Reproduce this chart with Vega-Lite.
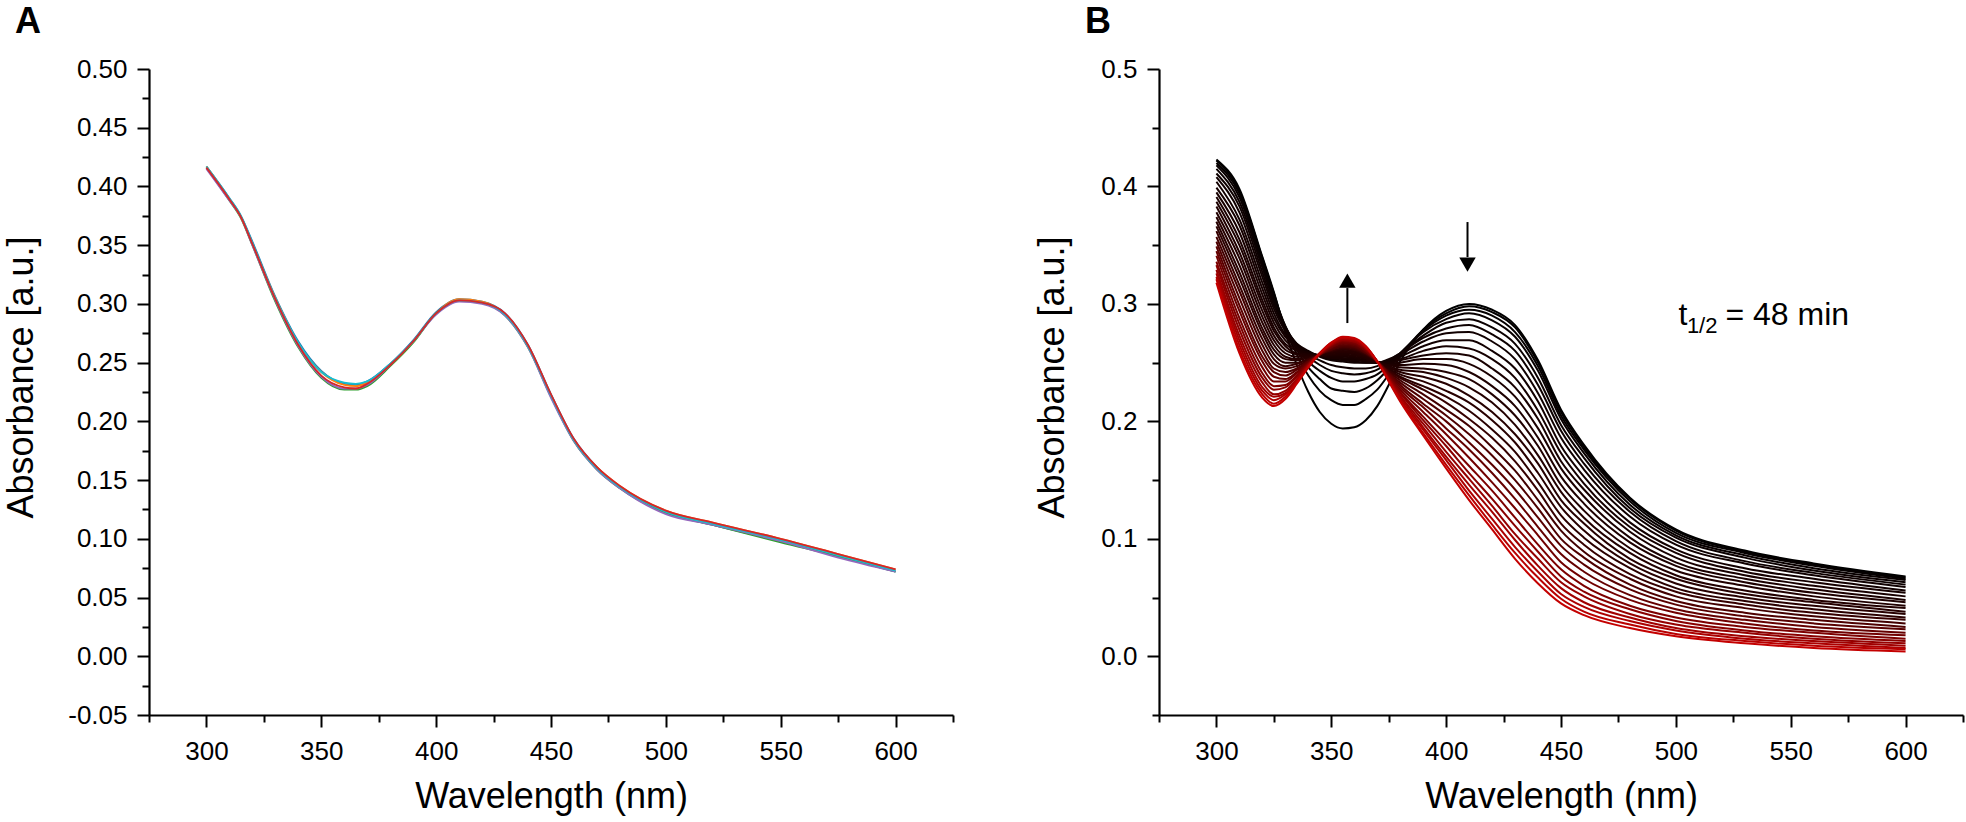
{"$schema":"https://vega.github.io/schema/vega-lite/v6.json","autosize":{"type":"none"},"padding":{"left":149,"top":69,"right":1817,"bottom":753},"background":"white","spacing":206,"bounds":"flush",
"config":{"view":{"stroke":null},"axis":{"grid":false,"domainColor":"black","tickColor":"black","labelColor":"black","titleColor":"black","labelFont":"Liberation Sans","titleFont":"Liberation Sans","labelFontSize":26,"titleFontSize":36,"titleFontWeight":"normal","tickWidth":2,"domainWidth":2.2,"labelFlush":false,"labelOverlap":false,"labelBound":false}},
"hconcat":[
{"width":804,"height":646,
"resolve":{"axis":{"x":"independent","y":"independent"}},
"layer":[
{"data":{"values":[
{"c":1,"w":300,"a":0.417},{"c":1,"w":310,"a":0.390},{"c":1,"w":315,"a":0.375},{"c":1,"w":320,"a":0.353},{"c":1,"w":330,"a":0.306},{"c":1,"w":340,"a":0.268},{"c":1,"w":350,"a":0.243},{"c":1,"w":360,"a":0.232},{"c":1,"w":365,"a":0.231},{"c":1,"w":370,"a":0.234},{"c":1,"w":380,"a":0.249},{"c":1,"w":390,"a":0.269},{"c":1,"w":400,"a":0.293},{"c":1,"w":410,"a":0.304},{"c":1,"w":420,"a":0.302},{"c":1,"w":430,"a":0.292},{"c":1,"w":440,"a":0.265},{"c":1,"w":450,"a":0.223},{"c":1,"w":460,"a":0.185},{"c":1,"w":470,"a":0.161},{"c":1,"w":480,"a":0.144},{"c":1,"w":500,"a":0.123},{"c":1,"w":520,"a":0.112},{"c":1,"w":550,"a":0.098},{"c":1,"w":575,"a":0.085},{"c":1,"w":600,"a":0.072},
{"c":2,"w":300,"a":0.416},{"c":2,"w":310,"a":0.388},{"c":2,"w":315,"a":0.373},{"c":2,"w":320,"a":0.350},{"c":2,"w":330,"a":0.302},{"c":2,"w":340,"a":0.263},{"c":2,"w":350,"a":0.237},{"c":2,"w":360,"a":0.227},{"c":2,"w":365,"a":0.227},{"c":2,"w":370,"a":0.230},{"c":2,"w":380,"a":0.247},{"c":2,"w":390,"a":0.267},{"c":2,"w":400,"a":0.292},{"c":2,"w":410,"a":0.303},{"c":2,"w":420,"a":0.301},{"c":2,"w":430,"a":0.290},{"c":2,"w":440,"a":0.263},{"c":2,"w":450,"a":0.221},{"c":2,"w":460,"a":0.183},{"c":2,"w":470,"a":0.159},{"c":2,"w":480,"a":0.143},{"c":2,"w":500,"a":0.122},{"c":2,"w":520,"a":0.112},{"c":2,"w":550,"a":0.097},{"c":2,"w":575,"a":0.085},{"c":2,"w":600,"a":0.072},
{"c":3,"w":300,"a":0.417},{"c":3,"w":310,"a":0.389},{"c":3,"w":315,"a":0.374},{"c":3,"w":320,"a":0.351},{"c":3,"w":330,"a":0.305},{"c":3,"w":340,"a":0.266},{"c":3,"w":350,"a":0.242},{"c":3,"w":360,"a":0.231},{"c":3,"w":365,"a":0.230},{"c":3,"w":370,"a":0.233},{"c":3,"w":380,"a":0.248},{"c":3,"w":390,"a":0.268},{"c":3,"w":400,"a":0.292},{"c":3,"w":410,"a":0.304},{"c":3,"w":420,"a":0.302},{"c":3,"w":430,"a":0.291},{"c":3,"w":440,"a":0.264},{"c":3,"w":450,"a":0.222},{"c":3,"w":460,"a":0.184},{"c":3,"w":470,"a":0.161},{"c":3,"w":480,"a":0.145},{"c":3,"w":500,"a":0.124},{"c":3,"w":520,"a":0.114},{"c":3,"w":550,"a":0.100},{"c":3,"w":575,"a":0.087},{"c":3,"w":600,"a":0.074},
{"c":4,"w":300,"a":0.415},{"c":4,"w":310,"a":0.388},{"c":4,"w":315,"a":0.374},{"c":4,"w":320,"a":0.350},{"c":4,"w":330,"a":0.303},{"c":4,"w":340,"a":0.264},{"c":4,"w":350,"a":0.238},{"c":4,"w":360,"a":0.228},{"c":4,"w":365,"a":0.228},{"c":4,"w":370,"a":0.231},{"c":4,"w":380,"a":0.248},{"c":4,"w":390,"a":0.268},{"c":4,"w":400,"a":0.291},{"c":4,"w":410,"a":0.302},{"c":4,"w":420,"a":0.300},{"c":4,"w":430,"a":0.290},{"c":4,"w":440,"a":0.263},{"c":4,"w":450,"a":0.220},{"c":4,"w":460,"a":0.183},{"c":4,"w":470,"a":0.159},{"c":4,"w":480,"a":0.143},{"c":4,"w":500,"a":0.121},{"c":4,"w":520,"a":0.112},{"c":4,"w":550,"a":0.098},{"c":4,"w":575,"a":0.084},{"c":4,"w":600,"a":0.072},
{"c":5,"w":300,"a":0.417},{"c":5,"w":310,"a":0.390},{"c":5,"w":315,"a":0.375},{"c":5,"w":320,"a":0.352},{"c":5,"w":330,"a":0.305},{"c":5,"w":340,"a":0.267},{"c":5,"w":350,"a":0.242},{"c":5,"w":360,"a":0.233},{"c":5,"w":365,"a":0.232},{"c":5,"w":370,"a":0.234},{"c":5,"w":380,"a":0.249},{"c":5,"w":390,"a":0.268},{"c":5,"w":400,"a":0.292},{"c":5,"w":410,"a":0.303},{"c":5,"w":420,"a":0.301},{"c":5,"w":430,"a":0.291},{"c":5,"w":440,"a":0.264},{"c":5,"w":450,"a":0.222},{"c":5,"w":460,"a":0.184},{"c":5,"w":470,"a":0.160},{"c":5,"w":480,"a":0.144},{"c":5,"w":500,"a":0.123},{"c":5,"w":520,"a":0.113},{"c":5,"w":550,"a":0.099},{"c":5,"w":575,"a":0.086},{"c":5,"w":600,"a":0.073},
{"c":6,"w":300,"a":0.416},{"c":6,"w":310,"a":0.389},{"c":6,"w":315,"a":0.374},{"c":6,"w":320,"a":0.351},{"c":6,"w":330,"a":0.304},{"c":6,"w":340,"a":0.265},{"c":6,"w":350,"a":0.239},{"c":6,"w":360,"a":0.229},{"c":6,"w":365,"a":0.228},{"c":6,"w":370,"a":0.232},{"c":6,"w":380,"a":0.248},{"c":6,"w":390,"a":0.268},{"c":6,"w":400,"a":0.292},{"c":6,"w":410,"a":0.303},{"c":6,"w":420,"a":0.301},{"c":6,"w":430,"a":0.292},{"c":6,"w":440,"a":0.265},{"c":6,"w":450,"a":0.223},{"c":6,"w":460,"a":0.185},{"c":6,"w":470,"a":0.161},{"c":6,"w":480,"a":0.145},{"c":6,"w":500,"a":0.124},{"c":6,"w":520,"a":0.114},{"c":6,"w":550,"a":0.100},{"c":6,"w":575,"a":0.087},{"c":6,"w":600,"a":0.074}
]},
"mark":{"type":"line","strokeWidth":1.8,"interpolate":"monotone"},
"encoding":{
"x":{"field":"w","type":"quantitative","scale":{"domain":[275,625],"nice":false,"zero":false},"axis":{"orient":"bottom","values":[300,350,400,450,500,550,600],"format":"d","tickSize":12,"labelPadding":11,"title":"Wavelength (nm)","titleX":402,"titleY":92,"titleBaseline":"alphabetic","titleAlign":"center"}},
"y":{"field":"a","type":"quantitative","scale":{"domain":[-0.05,0.5],"nice":false,"zero":false},"axis":{"orient":"left","values":[-0.05,0,0.05,0.1,0.15,0.2,0.25,0.3,0.35,0.4,0.45,0.5],"labelExpr":"replace(format(datum.value,'.2f'),'−','-')","tickSize":12,"labelPadding":10,"title":"Absorbance [a.u.]","titleX":-117,"titleY":308,"titleAngle":270,"titleBaseline":"alphabetic","titleAlign":"center"}},
"color":{"field":"c","type":"nominal","scale":{"domain":[1,2,3,4,5,6],"range":["#1f77b4","#2ca02c","#ff7f0e","#9467bd","#17becf","#d62728"]},"legend":null}}},
{"data":{"values":[{}]},
"mark":{"type":"point","opacity":0},
"encoding":{
"x":{"datum":300,"type":"quantitative","scale":{"domain":[275,625],"nice":false,"zero":false},"axis":{"orient":"bottom","values":[275,325,375,425,475,525,575,625],"tickSize":7,"labels":false,"domain":false,"title":null}},
"y":{"datum":0.3,"type":"quantitative","scale":{"domain":[-0.05,0.5],"nice":false,"zero":false},"axis":{"orient":"left","values":[-0.025,0.025,0.075,0.125,0.175,0.225,0.275,0.325,0.375,0.425,0.475],"tickSize":7,"labels":false,"domain":false,"title":null}}}},
{"data":{"values":[{}]},
"mark":{"type":"text","text":"A","font":"Liberation Sans","fontSize":36,"fontWeight":"bold","align":"left","baseline":"alphabetic","fill":"black"},
"encoding":{"x":{"datum":216.66,"type":"quantitative","scale":{"domain":[275,625],"nice":false,"zero":false},"axis":null},"y":{"datum":0.5307,"type":"quantitative","scale":{"domain":[-0.05,0.5],"nice":false,"zero":false},"axis":null}}}
]},
{"width":804,"height":646,
"resolve":{"axis":{"x":"independent","y":"independent"}},
"layer":[
{"data":{"values":[
{"s":0,"w":300,"a":0.423},{"s":0,"w":310,"a":0.398},{"s":0,"w":320,"a":0.340},{"s":0,"w":325,"a":0.310},{"s":0,"w":330,"a":0.276},{"s":0,"w":335,"a":0.248},{"s":0,"w":340,"a":0.225},{"s":0,"w":345,"a":0.208},{"s":0,"w":350,"a":0.198},{"s":0,"w":355,"a":0.194},{"s":0,"w":360,"a":0.195},{"s":0,"w":365,"a":0.201},{"s":0,"w":370,"a":0.213},{"s":0,"w":375,"a":0.231},{"s":0,"w":380,"a":0.251},{"s":0,"w":390,"a":0.278},{"s":0,"w":400,"a":0.294},{"s":0,"w":410,"a":0.300},{"s":0,"w":420,"a":0.295},{"s":0,"w":430,"a":0.282},{"s":0,"w":440,"a":0.252},{"s":0,"w":450,"a":0.210},{"s":0,"w":460,"a":0.180},{"s":0,"w":480,"a":0.135},{"s":0,"w":500,"a":0.108},{"s":0,"w":530,"a":0.090},{"s":0,"w":560,"a":0.079},{"s":0,"w":600,"a":0.068},
{"s":1,"w":300,"a":0.422},{"s":1,"w":310,"a":0.396},{"s":1,"w":320,"a":0.339},{"s":1,"w":325,"a":0.309},{"s":1,"w":330,"a":0.279},{"s":1,"w":335,"a":0.257},{"s":1,"w":340,"a":0.239},{"s":1,"w":345,"a":0.226},{"s":1,"w":350,"a":0.218},{"s":1,"w":355,"a":0.214},{"s":1,"w":360,"a":0.214},{"s":1,"w":365,"a":0.219},{"s":1,"w":370,"a":0.227},{"s":1,"w":375,"a":0.240},{"s":1,"w":380,"a":0.255},{"s":1,"w":390,"a":0.278},{"s":1,"w":400,"a":0.292},{"s":1,"w":410,"a":0.298},{"s":1,"w":420,"a":0.293},{"s":1,"w":430,"a":0.280},{"s":1,"w":440,"a":0.250},{"s":1,"w":450,"a":0.208},{"s":1,"w":460,"a":0.178},{"s":1,"w":480,"a":0.134},{"s":1,"w":500,"a":0.107},{"s":1,"w":530,"a":0.089},{"s":1,"w":560,"a":0.078},{"s":1,"w":600,"a":0.067},
{"s":2,"w":300,"a":0.420},{"s":2,"w":310,"a":0.394},{"s":2,"w":320,"a":0.337},{"s":2,"w":325,"a":0.307},{"s":2,"w":330,"a":0.281},{"s":2,"w":335,"a":0.261},{"s":2,"w":340,"a":0.246},{"s":2,"w":345,"a":0.236},{"s":2,"w":350,"a":0.228},{"s":2,"w":355,"a":0.226},{"s":2,"w":360,"a":0.225},{"s":2,"w":365,"a":0.228},{"s":2,"w":370,"a":0.235},{"s":2,"w":375,"a":0.245},{"s":2,"w":380,"a":0.257},{"s":2,"w":390,"a":0.277},{"s":2,"w":400,"a":0.290},{"s":2,"w":410,"a":0.295},{"s":2,"w":420,"a":0.290},{"s":2,"w":430,"a":0.276},{"s":2,"w":440,"a":0.247},{"s":2,"w":450,"a":0.205},{"s":2,"w":460,"a":0.176},{"s":2,"w":480,"a":0.132},{"s":2,"w":500,"a":0.105},{"s":2,"w":530,"a":0.088},{"s":2,"w":560,"a":0.077},{"s":2,"w":600,"a":0.066},
{"s":3,"w":300,"a":0.418},{"s":3,"w":310,"a":0.391},{"s":3,"w":320,"a":0.334},{"s":3,"w":325,"a":0.305},{"s":3,"w":330,"a":0.281},{"s":3,"w":335,"a":0.264},{"s":3,"w":340,"a":0.251},{"s":3,"w":345,"a":0.243},{"s":3,"w":350,"a":0.237},{"s":3,"w":355,"a":0.234},{"s":3,"w":360,"a":0.234},{"s":3,"w":365,"a":0.236},{"s":3,"w":370,"a":0.240},{"s":3,"w":375,"a":0.248},{"s":3,"w":380,"a":0.258},{"s":3,"w":390,"a":0.276},{"s":3,"w":400,"a":0.287},{"s":3,"w":410,"a":0.292},{"s":3,"w":420,"a":0.286},{"s":3,"w":430,"a":0.272},{"s":3,"w":440,"a":0.243},{"s":3,"w":450,"a":0.202},{"s":3,"w":460,"a":0.173},{"s":3,"w":480,"a":0.129},{"s":3,"w":500,"a":0.103},{"s":3,"w":530,"a":0.086},{"s":3,"w":560,"a":0.075},{"s":3,"w":600,"a":0.065},
{"s":4,"w":300,"a":0.415},{"s":4,"w":310,"a":0.387},{"s":4,"w":320,"a":0.331},{"s":4,"w":325,"a":0.302},{"s":4,"w":330,"a":0.280},{"s":4,"w":335,"a":0.265},{"s":4,"w":340,"a":0.255},{"s":4,"w":345,"a":0.248},{"s":4,"w":350,"a":0.243},{"s":4,"w":355,"a":0.241},{"s":4,"w":360,"a":0.240},{"s":4,"w":365,"a":0.241},{"s":4,"w":370,"a":0.244},{"s":4,"w":375,"a":0.251},{"s":4,"w":380,"a":0.258},{"s":4,"w":390,"a":0.273},{"s":4,"w":400,"a":0.284},{"s":4,"w":410,"a":0.287},{"s":4,"w":420,"a":0.280},{"s":4,"w":430,"a":0.266},{"s":4,"w":440,"a":0.237},{"s":4,"w":450,"a":0.197},{"s":4,"w":460,"a":0.169},{"s":4,"w":480,"a":0.126},{"s":4,"w":500,"a":0.101},{"s":4,"w":530,"a":0.084},{"s":4,"w":560,"a":0.073},{"s":4,"w":600,"a":0.063},
{"s":5,"w":300,"a":0.411},{"s":5,"w":310,"a":0.383},{"s":5,"w":320,"a":0.327},{"s":5,"w":325,"a":0.299},{"s":5,"w":330,"a":0.279},{"s":5,"w":335,"a":0.266},{"s":5,"w":340,"a":0.257},{"s":5,"w":345,"a":0.252},{"s":5,"w":350,"a":0.248},{"s":5,"w":355,"a":0.246},{"s":5,"w":360,"a":0.245},{"s":5,"w":365,"a":0.245},{"s":5,"w":370,"a":0.247},{"s":5,"w":375,"a":0.252},{"s":5,"w":380,"a":0.258},{"s":5,"w":390,"a":0.271},{"s":5,"w":400,"a":0.279},{"s":5,"w":410,"a":0.282},{"s":5,"w":420,"a":0.274},{"s":5,"w":430,"a":0.260},{"s":5,"w":440,"a":0.231},{"s":5,"w":450,"a":0.192},{"s":5,"w":460,"a":0.164},{"s":5,"w":480,"a":0.123},{"s":5,"w":500,"a":0.098},{"s":5,"w":530,"a":0.081},{"s":5,"w":560,"a":0.071},{"s":5,"w":600,"a":0.061},
{"s":6,"w":300,"a":0.408},{"s":6,"w":310,"a":0.378},{"s":6,"w":320,"a":0.323},{"s":6,"w":325,"a":0.296},{"s":6,"w":330,"a":0.277},{"s":6,"w":335,"a":0.266},{"s":6,"w":340,"a":0.260},{"s":6,"w":345,"a":0.255},{"s":6,"w":350,"a":0.252},{"s":6,"w":355,"a":0.251},{"s":6,"w":360,"a":0.250},{"s":6,"w":365,"a":0.250},{"s":6,"w":370,"a":0.250},{"s":6,"w":375,"a":0.253},{"s":6,"w":380,"a":0.257},{"s":6,"w":390,"a":0.268},{"s":6,"w":400,"a":0.275},{"s":6,"w":410,"a":0.276},{"s":6,"w":420,"a":0.268},{"s":6,"w":430,"a":0.253},{"s":6,"w":440,"a":0.224},{"s":6,"w":450,"a":0.186},{"s":6,"w":460,"a":0.159},{"s":6,"w":480,"a":0.119},{"s":6,"w":500,"a":0.095},{"s":6,"w":530,"a":0.079},{"s":6,"w":560,"a":0.069},{"s":6,"w":600,"a":0.059},
{"s":7,"w":300,"a":0.404},{"s":7,"w":310,"a":0.372},{"s":7,"w":320,"a":0.318},{"s":7,"w":325,"a":0.292},{"s":7,"w":330,"a":0.274},{"s":7,"w":335,"a":0.265},{"s":7,"w":340,"a":0.259},{"s":7,"w":345,"a":0.256},{"s":7,"w":350,"a":0.253},{"s":7,"w":355,"a":0.252},{"s":7,"w":360,"a":0.251},{"s":7,"w":365,"a":0.250},{"s":7,"w":370,"a":0.250},{"s":7,"w":375,"a":0.252},{"s":7,"w":380,"a":0.255},{"s":7,"w":390,"a":0.264},{"s":7,"w":400,"a":0.269},{"s":7,"w":410,"a":0.269},{"s":7,"w":420,"a":0.260},{"s":7,"w":430,"a":0.245},{"s":7,"w":440,"a":0.217},{"s":7,"w":450,"a":0.179},{"s":7,"w":460,"a":0.153},{"s":7,"w":480,"a":0.114},{"s":7,"w":500,"a":0.091},{"s":7,"w":530,"a":0.075},{"s":7,"w":560,"a":0.066},{"s":7,"w":600,"a":0.056},
{"s":8,"w":300,"a":0.399},{"s":8,"w":310,"a":0.367},{"s":8,"w":320,"a":0.313},{"s":8,"w":325,"a":0.288},{"s":8,"w":330,"a":0.272},{"s":8,"w":335,"a":0.263},{"s":8,"w":340,"a":0.258},{"s":8,"w":345,"a":0.256},{"s":8,"w":350,"a":0.254},{"s":8,"w":355,"a":0.253},{"s":8,"w":360,"a":0.252},{"s":8,"w":365,"a":0.251},{"s":8,"w":370,"a":0.250},{"s":8,"w":375,"a":0.251},{"s":8,"w":380,"a":0.253},{"s":8,"w":390,"a":0.260},{"s":8,"w":400,"a":0.264},{"s":8,"w":410,"a":0.262},{"s":8,"w":420,"a":0.253},{"s":8,"w":430,"a":0.237},{"s":8,"w":440,"a":0.209},{"s":8,"w":450,"a":0.173},{"s":8,"w":460,"a":0.147},{"s":8,"w":480,"a":0.110},{"s":8,"w":500,"a":0.088},{"s":8,"w":530,"a":0.072},{"s":8,"w":560,"a":0.063},{"s":8,"w":600,"a":0.054},
{"s":9,"w":300,"a":0.395},{"s":9,"w":310,"a":0.361},{"s":9,"w":320,"a":0.308},{"s":9,"w":325,"a":0.284},{"s":9,"w":330,"a":0.269},{"s":9,"w":335,"a":0.261},{"s":9,"w":340,"a":0.258},{"s":9,"w":345,"a":0.256},{"s":9,"w":350,"a":0.254},{"s":9,"w":355,"a":0.254},{"s":9,"w":360,"a":0.253},{"s":9,"w":365,"a":0.252},{"s":9,"w":370,"a":0.250},{"s":9,"w":375,"a":0.250},{"s":9,"w":380,"a":0.252},{"s":9,"w":390,"a":0.256},{"s":9,"w":400,"a":0.258},{"s":9,"w":410,"a":0.256},{"s":9,"w":420,"a":0.245},{"s":9,"w":430,"a":0.229},{"s":9,"w":440,"a":0.202},{"s":9,"w":450,"a":0.166},{"s":9,"w":460,"a":0.142},{"s":9,"w":480,"a":0.106},{"s":9,"w":500,"a":0.084},{"s":9,"w":530,"a":0.069},{"s":9,"w":560,"a":0.060},{"s":9,"w":600,"a":0.051},
{"s":10,"w":300,"a":0.391},{"s":10,"w":310,"a":0.355},{"s":10,"w":320,"a":0.303},{"s":10,"w":325,"a":0.280},{"s":10,"w":330,"a":0.266},{"s":10,"w":335,"a":0.260},{"s":10,"w":340,"a":0.257},{"s":10,"w":345,"a":0.256},{"s":10,"w":350,"a":0.255},{"s":10,"w":355,"a":0.255},{"s":10,"w":360,"a":0.254},{"s":10,"w":365,"a":0.252},{"s":10,"w":370,"a":0.250},{"s":10,"w":375,"a":0.249},{"s":10,"w":380,"a":0.250},{"s":10,"w":390,"a":0.253},{"s":10,"w":400,"a":0.253},{"s":10,"w":410,"a":0.249},{"s":10,"w":420,"a":0.238},{"s":10,"w":430,"a":0.221},{"s":10,"w":440,"a":0.194},{"s":10,"w":450,"a":0.160},{"s":10,"w":460,"a":0.136},{"s":10,"w":480,"a":0.101},{"s":10,"w":500,"a":0.080},{"s":10,"w":530,"a":0.066},{"s":10,"w":560,"a":0.057},{"s":10,"w":600,"a":0.048},
{"s":11,"w":300,"a":0.387},{"s":11,"w":310,"a":0.350},{"s":11,"w":320,"a":0.299},{"s":11,"w":325,"a":0.277},{"s":11,"w":330,"a":0.264},{"s":11,"w":335,"a":0.258},{"s":11,"w":340,"a":0.257},{"s":11,"w":345,"a":0.256},{"s":11,"w":350,"a":0.256},{"s":11,"w":355,"a":0.256},{"s":11,"w":360,"a":0.255},{"s":11,"w":365,"a":0.253},{"s":11,"w":370,"a":0.250},{"s":11,"w":375,"a":0.248},{"s":11,"w":380,"a":0.248},{"s":11,"w":390,"a":0.249},{"s":11,"w":400,"a":0.248},{"s":11,"w":410,"a":0.242},{"s":11,"w":420,"a":0.230},{"s":11,"w":430,"a":0.213},{"s":11,"w":440,"a":0.186},{"s":11,"w":450,"a":0.153},{"s":11,"w":460,"a":0.130},{"s":11,"w":480,"a":0.097},{"s":11,"w":500,"a":0.077},{"s":11,"w":530,"a":0.063},{"s":11,"w":560,"a":0.054},{"s":11,"w":600,"a":0.046},
{"s":12,"w":300,"a":0.383},{"s":12,"w":310,"a":0.344},{"s":12,"w":320,"a":0.294},{"s":12,"w":325,"a":0.273},{"s":12,"w":330,"a":0.261},{"s":12,"w":335,"a":0.257},{"s":12,"w":340,"a":0.256},{"s":12,"w":345,"a":0.256},{"s":12,"w":350,"a":0.257},{"s":12,"w":355,"a":0.257},{"s":12,"w":360,"a":0.256},{"s":12,"w":365,"a":0.254},{"s":12,"w":370,"a":0.250},{"s":12,"w":375,"a":0.248},{"s":12,"w":380,"a":0.246},{"s":12,"w":390,"a":0.245},{"s":12,"w":400,"a":0.242},{"s":12,"w":410,"a":0.236},{"s":12,"w":420,"a":0.223},{"s":12,"w":430,"a":0.205},{"s":12,"w":440,"a":0.179},{"s":12,"w":450,"a":0.146},{"s":12,"w":460,"a":0.124},{"s":12,"w":480,"a":0.092},{"s":12,"w":500,"a":0.073},{"s":12,"w":530,"a":0.060},{"s":12,"w":560,"a":0.051},{"s":12,"w":600,"a":0.043},
{"s":13,"w":300,"a":0.378},{"s":13,"w":310,"a":0.339},{"s":13,"w":320,"a":0.289},{"s":13,"w":325,"a":0.269},{"s":13,"w":330,"a":0.258},{"s":13,"w":335,"a":0.255},{"s":13,"w":340,"a":0.255},{"s":13,"w":345,"a":0.256},{"s":13,"w":350,"a":0.257},{"s":13,"w":355,"a":0.258},{"s":13,"w":360,"a":0.257},{"s":13,"w":365,"a":0.254},{"s":13,"w":370,"a":0.250},{"s":13,"w":375,"a":0.247},{"s":13,"w":380,"a":0.244},{"s":13,"w":390,"a":0.242},{"s":13,"w":400,"a":0.237},{"s":13,"w":410,"a":0.229},{"s":13,"w":420,"a":0.216},{"s":13,"w":430,"a":0.197},{"s":13,"w":440,"a":0.171},{"s":13,"w":450,"a":0.140},{"s":13,"w":460,"a":0.118},{"s":13,"w":480,"a":0.088},{"s":13,"w":500,"a":0.069},{"s":13,"w":530,"a":0.056},{"s":13,"w":560,"a":0.048},{"s":13,"w":600,"a":0.041},
{"s":14,"w":300,"a":0.374},{"s":14,"w":310,"a":0.333},{"s":14,"w":320,"a":0.284},{"s":14,"w":325,"a":0.265},{"s":14,"w":330,"a":0.255},{"s":14,"w":335,"a":0.253},{"s":14,"w":340,"a":0.255},{"s":14,"w":345,"a":0.256},{"s":14,"w":350,"a":0.258},{"s":14,"w":355,"a":0.259},{"s":14,"w":360,"a":0.258},{"s":14,"w":365,"a":0.255},{"s":14,"w":370,"a":0.250},{"s":14,"w":375,"a":0.246},{"s":14,"w":380,"a":0.242},{"s":14,"w":390,"a":0.238},{"s":14,"w":400,"a":0.232},{"s":14,"w":410,"a":0.222},{"s":14,"w":420,"a":0.208},{"s":14,"w":430,"a":0.189},{"s":14,"w":440,"a":0.164},{"s":14,"w":450,"a":0.133},{"s":14,"w":460,"a":0.113},{"s":14,"w":480,"a":0.083},{"s":14,"w":500,"a":0.066},{"s":14,"w":530,"a":0.053},{"s":14,"w":560,"a":0.046},{"s":14,"w":600,"a":0.038},
{"s":15,"w":300,"a":0.370},{"s":15,"w":310,"a":0.327},{"s":15,"w":320,"a":0.279},{"s":15,"w":325,"a":0.261},{"s":15,"w":330,"a":0.253},{"s":15,"w":335,"a":0.252},{"s":15,"w":340,"a":0.254},{"s":15,"w":345,"a":0.256},{"s":15,"w":350,"a":0.259},{"s":15,"w":355,"a":0.260},{"s":15,"w":360,"a":0.259},{"s":15,"w":365,"a":0.256},{"s":15,"w":370,"a":0.251},{"s":15,"w":375,"a":0.245},{"s":15,"w":380,"a":0.240},{"s":15,"w":390,"a":0.234},{"s":15,"w":400,"a":0.226},{"s":15,"w":410,"a":0.216},{"s":15,"w":420,"a":0.201},{"s":15,"w":430,"a":0.182},{"s":15,"w":440,"a":0.156},{"s":15,"w":450,"a":0.127},{"s":15,"w":460,"a":0.107},{"s":15,"w":480,"a":0.079},{"s":15,"w":500,"a":0.062},{"s":15,"w":530,"a":0.050},{"s":15,"w":560,"a":0.043},{"s":15,"w":600,"a":0.036},
{"s":16,"w":300,"a":0.366},{"s":16,"w":310,"a":0.322},{"s":16,"w":320,"a":0.275},{"s":16,"w":325,"a":0.257},{"s":16,"w":330,"a":0.250},{"s":16,"w":335,"a":0.250},{"s":16,"w":340,"a":0.253},{"s":16,"w":345,"a":0.257},{"s":16,"w":350,"a":0.259},{"s":16,"w":355,"a":0.261},{"s":16,"w":360,"a":0.260},{"s":16,"w":365,"a":0.256},{"s":16,"w":370,"a":0.251},{"s":16,"w":375,"a":0.244},{"s":16,"w":380,"a":0.238},{"s":16,"w":390,"a":0.230},{"s":16,"w":400,"a":0.221},{"s":16,"w":410,"a":0.209},{"s":16,"w":420,"a":0.193},{"s":16,"w":430,"a":0.174},{"s":16,"w":440,"a":0.148},{"s":16,"w":450,"a":0.120},{"s":16,"w":460,"a":0.101},{"s":16,"w":480,"a":0.075},{"s":16,"w":500,"a":0.058},{"s":16,"w":530,"a":0.047},{"s":16,"w":560,"a":0.040},{"s":16,"w":600,"a":0.033},
{"s":17,"w":300,"a":0.362},{"s":17,"w":310,"a":0.316},{"s":17,"w":320,"a":0.270},{"s":17,"w":325,"a":0.253},{"s":17,"w":330,"a":0.247},{"s":17,"w":335,"a":0.249},{"s":17,"w":340,"a":0.253},{"s":17,"w":345,"a":0.257},{"s":17,"w":350,"a":0.260},{"s":17,"w":355,"a":0.262},{"s":17,"w":360,"a":0.261},{"s":17,"w":365,"a":0.257},{"s":17,"w":370,"a":0.251},{"s":17,"w":375,"a":0.243},{"s":17,"w":380,"a":0.237},{"s":17,"w":390,"a":0.227},{"s":17,"w":400,"a":0.216},{"s":17,"w":410,"a":0.202},{"s":17,"w":420,"a":0.186},{"s":17,"w":430,"a":0.166},{"s":17,"w":440,"a":0.141},{"s":17,"w":450,"a":0.113},{"s":17,"w":460,"a":0.095},{"s":17,"w":480,"a":0.070},{"s":17,"w":500,"a":0.055},{"s":17,"w":530,"a":0.044},{"s":17,"w":560,"a":0.037},{"s":17,"w":600,"a":0.031},
{"s":18,"w":300,"a":0.357},{"s":18,"w":310,"a":0.311},{"s":18,"w":320,"a":0.265},{"s":18,"w":325,"a":0.249},{"s":18,"w":330,"a":0.245},{"s":18,"w":335,"a":0.247},{"s":18,"w":340,"a":0.252},{"s":18,"w":345,"a":0.257},{"s":18,"w":350,"a":0.261},{"s":18,"w":355,"a":0.263},{"s":18,"w":360,"a":0.262},{"s":18,"w":365,"a":0.258},{"s":18,"w":370,"a":0.251},{"s":18,"w":375,"a":0.242},{"s":18,"w":380,"a":0.235},{"s":18,"w":390,"a":0.223},{"s":18,"w":400,"a":0.210},{"s":18,"w":410,"a":0.196},{"s":18,"w":420,"a":0.178},{"s":18,"w":430,"a":0.158},{"s":18,"w":440,"a":0.133},{"s":18,"w":450,"a":0.107},{"s":18,"w":460,"a":0.089},{"s":18,"w":480,"a":0.066},{"s":18,"w":500,"a":0.051},{"s":18,"w":530,"a":0.041},{"s":18,"w":560,"a":0.034},{"s":18,"w":600,"a":0.028},
{"s":19,"w":300,"a":0.353},{"s":19,"w":310,"a":0.305},{"s":19,"w":320,"a":0.260},{"s":19,"w":325,"a":0.245},{"s":19,"w":330,"a":0.242},{"s":19,"w":335,"a":0.245},{"s":19,"w":340,"a":0.251},{"s":19,"w":345,"a":0.257},{"s":19,"w":350,"a":0.261},{"s":19,"w":355,"a":0.264},{"s":19,"w":360,"a":0.263},{"s":19,"w":365,"a":0.258},{"s":19,"w":370,"a":0.251},{"s":19,"w":375,"a":0.241},{"s":19,"w":380,"a":0.233},{"s":19,"w":390,"a":0.219},{"s":19,"w":400,"a":0.205},{"s":19,"w":410,"a":0.189},{"s":19,"w":420,"a":0.171},{"s":19,"w":430,"a":0.150},{"s":19,"w":440,"a":0.126},{"s":19,"w":450,"a":0.100},{"s":19,"w":460,"a":0.084},{"s":19,"w":480,"a":0.061},{"s":19,"w":500,"a":0.047},{"s":19,"w":530,"a":0.037},{"s":19,"w":560,"a":0.031},{"s":19,"w":600,"a":0.025},
{"s":20,"w":300,"a":0.349},{"s":20,"w":310,"a":0.299},{"s":20,"w":320,"a":0.255},{"s":20,"w":325,"a":0.242},{"s":20,"w":330,"a":0.239},{"s":20,"w":335,"a":0.244},{"s":20,"w":340,"a":0.251},{"s":20,"w":345,"a":0.257},{"s":20,"w":350,"a":0.262},{"s":20,"w":355,"a":0.265},{"s":20,"w":360,"a":0.264},{"s":20,"w":365,"a":0.259},{"s":20,"w":370,"a":0.251},{"s":20,"w":375,"a":0.241},{"s":20,"w":380,"a":0.231},{"s":20,"w":390,"a":0.215},{"s":20,"w":400,"a":0.200},{"s":20,"w":410,"a":0.182},{"s":20,"w":420,"a":0.163},{"s":20,"w":430,"a":0.142},{"s":20,"w":440,"a":0.118},{"s":20,"w":450,"a":0.094},{"s":20,"w":460,"a":0.078},{"s":20,"w":480,"a":0.057},{"s":20,"w":500,"a":0.044},{"s":20,"w":530,"a":0.034},{"s":20,"w":560,"a":0.028},{"s":20,"w":600,"a":0.023},
{"s":21,"w":300,"a":0.345},{"s":21,"w":310,"a":0.294},{"s":21,"w":320,"a":0.251},{"s":21,"w":325,"a":0.238},{"s":21,"w":330,"a":0.236},{"s":21,"w":335,"a":0.242},{"s":21,"w":340,"a":0.250},{"s":21,"w":345,"a":0.257},{"s":21,"w":350,"a":0.263},{"s":21,"w":355,"a":0.266},{"s":21,"w":360,"a":0.265},{"s":21,"w":365,"a":0.260},{"s":21,"w":370,"a":0.251},{"s":21,"w":375,"a":0.240},{"s":21,"w":380,"a":0.229},{"s":21,"w":390,"a":0.212},{"s":21,"w":400,"a":0.194},{"s":21,"w":410,"a":0.176},{"s":21,"w":420,"a":0.156},{"s":21,"w":430,"a":0.134},{"s":21,"w":440,"a":0.110},{"s":21,"w":450,"a":0.087},{"s":21,"w":460,"a":0.072},{"s":21,"w":480,"a":0.052},{"s":21,"w":500,"a":0.040},{"s":21,"w":530,"a":0.031},{"s":21,"w":560,"a":0.025},{"s":21,"w":600,"a":0.020},
{"s":22,"w":300,"a":0.341},{"s":22,"w":310,"a":0.288},{"s":22,"w":320,"a":0.246},{"s":22,"w":325,"a":0.234},{"s":22,"w":330,"a":0.234},{"s":22,"w":335,"a":0.241},{"s":22,"w":340,"a":0.249},{"s":22,"w":345,"a":0.257},{"s":22,"w":350,"a":0.263},{"s":22,"w":355,"a":0.267},{"s":22,"w":360,"a":0.266},{"s":22,"w":365,"a":0.260},{"s":22,"w":370,"a":0.251},{"s":22,"w":375,"a":0.239},{"s":22,"w":380,"a":0.227},{"s":22,"w":390,"a":0.208},{"s":22,"w":400,"a":0.189},{"s":22,"w":410,"a":0.169},{"s":22,"w":420,"a":0.148},{"s":22,"w":430,"a":0.126},{"s":22,"w":440,"a":0.103},{"s":22,"w":450,"a":0.080},{"s":22,"w":460,"a":0.066},{"s":22,"w":480,"a":0.048},{"s":22,"w":500,"a":0.037},{"s":22,"w":530,"a":0.028},{"s":22,"w":560,"a":0.022},{"s":22,"w":600,"a":0.018},
{"s":23,"w":300,"a":0.336},{"s":23,"w":310,"a":0.283},{"s":23,"w":320,"a":0.241},{"s":23,"w":325,"a":0.230},{"s":23,"w":330,"a":0.231},{"s":23,"w":335,"a":0.239},{"s":23,"w":340,"a":0.249},{"s":23,"w":345,"a":0.257},{"s":23,"w":350,"a":0.264},{"s":23,"w":355,"a":0.268},{"s":23,"w":360,"a":0.267},{"s":23,"w":365,"a":0.261},{"s":23,"w":370,"a":0.251},{"s":23,"w":375,"a":0.238},{"s":23,"w":380,"a":0.225},{"s":23,"w":390,"a":0.204},{"s":23,"w":400,"a":0.183},{"s":23,"w":410,"a":0.162},{"s":23,"w":420,"a":0.141},{"s":23,"w":430,"a":0.118},{"s":23,"w":440,"a":0.095},{"s":23,"w":450,"a":0.074},{"s":23,"w":460,"a":0.060},{"s":23,"w":480,"a":0.043},{"s":23,"w":500,"a":0.033},{"s":23,"w":530,"a":0.025},{"s":23,"w":560,"a":0.020},{"s":23,"w":600,"a":0.015},
{"s":24,"w":300,"a":0.333},{"s":24,"w":310,"a":0.278},{"s":24,"w":320,"a":0.237},{"s":24,"w":325,"a":0.227},{"s":24,"w":330,"a":0.229},{"s":24,"w":335,"a":0.238},{"s":24,"w":340,"a":0.248},{"s":24,"w":345,"a":0.257},{"s":24,"w":350,"a":0.265},{"s":24,"w":355,"a":0.269},{"s":24,"w":360,"a":0.268},{"s":24,"w":365,"a":0.262},{"s":24,"w":370,"a":0.251},{"s":24,"w":375,"a":0.237},{"s":24,"w":380,"a":0.224},{"s":24,"w":390,"a":0.201},{"s":24,"w":400,"a":0.179},{"s":24,"w":410,"a":0.156},{"s":24,"w":420,"a":0.134},{"s":24,"w":430,"a":0.111},{"s":24,"w":440,"a":0.089},{"s":24,"w":450,"a":0.068},{"s":24,"w":460,"a":0.055},{"s":24,"w":480,"a":0.040},{"s":24,"w":500,"a":0.030},{"s":24,"w":530,"a":0.022},{"s":24,"w":560,"a":0.017},{"s":24,"w":600,"a":0.013},
{"s":25,"w":300,"a":0.329},{"s":25,"w":310,"a":0.273},{"s":25,"w":320,"a":0.233},{"s":25,"w":325,"a":0.223},{"s":25,"w":330,"a":0.226},{"s":25,"w":335,"a":0.236},{"s":25,"w":340,"a":0.248},{"s":25,"w":345,"a":0.258},{"s":25,"w":350,"a":0.265},{"s":25,"w":355,"a":0.269},{"s":25,"w":360,"a":0.268},{"s":25,"w":365,"a":0.262},{"s":25,"w":370,"a":0.251},{"s":25,"w":375,"a":0.236},{"s":25,"w":380,"a":0.222},{"s":25,"w":390,"a":0.198},{"s":25,"w":400,"a":0.174},{"s":25,"w":410,"a":0.151},{"s":25,"w":420,"a":0.128},{"s":25,"w":430,"a":0.104},{"s":25,"w":440,"a":0.083},{"s":25,"w":450,"a":0.063},{"s":25,"w":460,"a":0.051},{"s":25,"w":480,"a":0.036},{"s":25,"w":500,"a":0.027},{"s":25,"w":530,"a":0.020},{"s":25,"w":560,"a":0.015},{"s":25,"w":600,"a":0.011},
{"s":26,"w":300,"a":0.326},{"s":26,"w":310,"a":0.269},{"s":26,"w":320,"a":0.229},{"s":26,"w":325,"a":0.221},{"s":26,"w":330,"a":0.224},{"s":26,"w":335,"a":0.235},{"s":26,"w":340,"a":0.247},{"s":26,"w":345,"a":0.258},{"s":26,"w":350,"a":0.266},{"s":26,"w":355,"a":0.270},{"s":26,"w":360,"a":0.269},{"s":26,"w":365,"a":0.263},{"s":26,"w":370,"a":0.251},{"s":26,"w":375,"a":0.236},{"s":26,"w":380,"a":0.221},{"s":26,"w":390,"a":0.195},{"s":26,"w":400,"a":0.170},{"s":26,"w":410,"a":0.146},{"s":26,"w":420,"a":0.123},{"s":26,"w":430,"a":0.099},{"s":26,"w":440,"a":0.077},{"s":26,"w":450,"a":0.058},{"s":26,"w":460,"a":0.046},{"s":26,"w":480,"a":0.033},{"s":26,"w":500,"a":0.024},{"s":26,"w":530,"a":0.017},{"s":26,"w":560,"a":0.013},{"s":26,"w":600,"a":0.009},
{"s":27,"w":300,"a":0.323},{"s":27,"w":310,"a":0.265},{"s":27,"w":320,"a":0.226},{"s":27,"w":325,"a":0.218},{"s":27,"w":330,"a":0.223},{"s":27,"w":335,"a":0.234},{"s":27,"w":340,"a":0.247},{"s":27,"w":345,"a":0.258},{"s":27,"w":350,"a":0.266},{"s":27,"w":355,"a":0.271},{"s":27,"w":360,"a":0.270},{"s":27,"w":365,"a":0.263},{"s":27,"w":370,"a":0.251},{"s":27,"w":375,"a":0.235},{"s":27,"w":380,"a":0.219},{"s":27,"w":390,"a":0.193},{"s":27,"w":400,"a":0.167},{"s":27,"w":410,"a":0.141},{"s":27,"w":420,"a":0.117},{"s":27,"w":430,"a":0.093},{"s":27,"w":440,"a":0.072},{"s":27,"w":450,"a":0.053},{"s":27,"w":460,"a":0.042},{"s":27,"w":480,"a":0.030},{"s":27,"w":500,"a":0.022},{"s":27,"w":530,"a":0.015},{"s":27,"w":560,"a":0.011},{"s":27,"w":600,"a":0.007},
{"s":28,"w":300,"a":0.321},{"s":28,"w":310,"a":0.261},{"s":28,"w":320,"a":0.223},{"s":28,"w":325,"a":0.215},{"s":28,"w":330,"a":0.221},{"s":28,"w":335,"a":0.233},{"s":28,"w":340,"a":0.246},{"s":28,"w":345,"a":0.258},{"s":28,"w":350,"a":0.267},{"s":28,"w":355,"a":0.271},{"s":28,"w":360,"a":0.270},{"s":28,"w":365,"a":0.264},{"s":28,"w":370,"a":0.251},{"s":28,"w":375,"a":0.235},{"s":28,"w":380,"a":0.218},{"s":28,"w":390,"a":0.190},{"s":28,"w":400,"a":0.163},{"s":28,"w":410,"a":0.137},{"s":28,"w":420,"a":0.112},{"s":28,"w":430,"a":0.088},{"s":28,"w":440,"a":0.067},{"s":28,"w":450,"a":0.049},{"s":28,"w":460,"a":0.038},{"s":28,"w":480,"a":0.027},{"s":28,"w":500,"a":0.019},{"s":28,"w":530,"a":0.013},{"s":28,"w":560,"a":0.009},{"s":28,"w":600,"a":0.006},
{"s":29,"w":300,"a":0.318},{"s":29,"w":310,"a":0.258},{"s":29,"w":320,"a":0.220},{"s":29,"w":325,"a":0.213},{"s":29,"w":330,"a":0.219},{"s":29,"w":335,"a":0.232},{"s":29,"w":340,"a":0.246},{"s":29,"w":345,"a":0.258},{"s":29,"w":350,"a":0.267},{"s":29,"w":355,"a":0.272},{"s":29,"w":360,"a":0.271},{"s":29,"w":365,"a":0.264},{"s":29,"w":370,"a":0.251},{"s":29,"w":375,"a":0.234},{"s":29,"w":380,"a":0.217},{"s":29,"w":390,"a":0.188},{"s":29,"w":400,"a":0.160},{"s":29,"w":410,"a":0.133},{"s":29,"w":420,"a":0.108},{"s":29,"w":430,"a":0.083},{"s":29,"w":440,"a":0.062},{"s":29,"w":450,"a":0.045},{"s":29,"w":460,"a":0.035},{"s":29,"w":480,"a":0.024},{"s":29,"w":500,"a":0.017},{"s":29,"w":530,"a":0.011},{"s":29,"w":560,"a":0.007},{"s":29,"w":600,"a":0.004}
]},
"mark":{"type":"line","strokeWidth":2,"interpolate":"monotone"},
"encoding":{
"x":{"field":"w","type":"quantitative","scale":{"domain":[275,625],"nice":false,"zero":false},"axis":{"orient":"bottom","values":[300,350,400,450,500,550,600],"format":"d","tickSize":12,"labelPadding":11,"title":"Wavelength (nm)","titleX":402,"titleY":92,"titleBaseline":"alphabetic","titleAlign":"center"}},
"y":{"field":"a","type":"quantitative","scale":{"domain":[-0.05,0.5],"nice":false,"zero":false},"axis":{"orient":"left","values":[0,0.1,0.2,0.3,0.4,0.5],"format":".1f","tickSize":12,"labelPadding":10,"title":"Absorbance [a.u.]","titleX":-96,"titleY":308,"titleAngle":270,"titleBaseline":"alphabetic","titleAlign":"center"}},
"detail":{"field":"s"},
"color":{"field":"s","type":"quantitative","scale":{"domain":[0,16,29],"range":["#000000","#2a0000","#c40000"],"interpolate":"rgb"},"legend":null}}},
{"data":{"values":[{}]},
"mark":{"type":"point","opacity":0},
"encoding":{
"x":{"datum":300,"type":"quantitative","scale":{"domain":[275,625],"nice":false,"zero":false},"axis":{"orient":"bottom","values":[275,325,375,425,475,525,575,625],"tickSize":7,"labels":false,"domain":false,"title":null}},
"y":{"datum":0.3,"type":"quantitative","scale":{"domain":[-0.05,0.5],"nice":false,"zero":false},"axis":{"orient":"left","values":[-0.05,0.05,0.15,0.25,0.35,0.45],"tickSize":7,"labels":false,"domain":false,"title":null}}}},
{"data":{"values":[{}]},
"mark":{"type":"text","text":"B","font":"Liberation Sans","fontSize":36,"fontWeight":"bold","align":"left","baseline":"alphabetic","fill":"black"},
"encoding":{"x":{"datum":242.8,"type":"quantitative","scale":{"domain":[275,625],"nice":false,"zero":false},"axis":null},"y":{"datum":0.5307,"type":"quantitative","scale":{"domain":[-0.05,0.5],"nice":false,"zero":false},"axis":null}}},
{"data":{"values":[{}]},
"mark":{"type":"text","text":"t","font":"Liberation Sans","fontSize":32,"fontWeight":"normal","align":"left","baseline":"alphabetic","fill":"black"},
"encoding":{"x":{"datum":501.1,"type":"quantitative","scale":{"domain":[275,625],"nice":false,"zero":false},"axis":null},"y":{"datum":0.282,"type":"quantitative","scale":{"domain":[-0.05,0.5],"nice":false,"zero":false},"axis":null}}},
{"data":{"values":[{}]},
"mark":{"type":"text","text":"1/2","font":"Liberation Sans","fontSize":22,"fontWeight":"normal","align":"left","baseline":"alphabetic","fill":"black"},
"encoding":{"x":{"datum":504.8,"type":"quantitative","scale":{"domain":[275,625],"nice":false,"zero":false},"axis":null},"y":{"datum":0.2752,"type":"quantitative","scale":{"domain":[-0.05,0.5],"nice":false,"zero":false},"axis":null}}},
{"data":{"values":[{}]},
"mark":{"type":"text","text":"= 48 min","font":"Liberation Sans","fontSize":32,"fontWeight":"normal","align":"left","baseline":"alphabetic","fill":"black"},
"encoding":{"x":{"datum":521.6,"type":"quantitative","scale":{"domain":[275,625],"nice":false,"zero":false},"axis":null},"y":{"datum":0.282,"type":"quantitative","scale":{"domain":[-0.05,0.5],"nice":false,"zero":false},"axis":null}}},
{"data":{"values":[{}]},
"mark":{"type":"rule","strokeWidth":2,"color":"black"},
"encoding":{"x":{"datum":357,"type":"quantitative","scale":{"domain":[275,625],"nice":false,"zero":false},"axis":null},"y":{"datum":0.2837,"type":"quantitative","scale":{"domain":[-0.05,0.5],"nice":false,"zero":false},"axis":null},"y2":{"datum":0.3135}}},
{"data":{"values":[{}]},
"mark":{"type":"point","shape":"triangle-up","filled":true,"size":270,"color":"black","opacity":1},
"encoding":{"x":{"datum":357,"type":"quantitative","scale":{"domain":[275,625],"nice":false,"zero":false},"axis":null},"y":{"datum":0.3199,"type":"quantitative","scale":{"domain":[-0.05,0.5],"nice":false,"zero":false},"axis":null}}},
{"data":{"values":[{}]},
"mark":{"type":"rule","strokeWidth":2,"color":"black"},
"encoding":{"x":{"datum":409.3,"type":"quantitative","scale":{"domain":[275,625],"nice":false,"zero":false},"axis":null},"y":{"datum":0.3697,"type":"quantitative","scale":{"domain":[-0.05,0.5],"nice":false,"zero":false},"axis":null},"y2":{"datum":0.3399}}},
{"data":{"values":[{}]},
"mark":{"type":"point","shape":"triangle-down","filled":true,"size":270,"color":"black","opacity":1},
"encoding":{"x":{"datum":409.3,"type":"quantitative","scale":{"domain":[275,625],"nice":false,"zero":false},"axis":null},"y":{"datum":0.3335,"type":"quantitative","scale":{"domain":[-0.05,0.5],"nice":false,"zero":false},"axis":null}}}
]}
]}
